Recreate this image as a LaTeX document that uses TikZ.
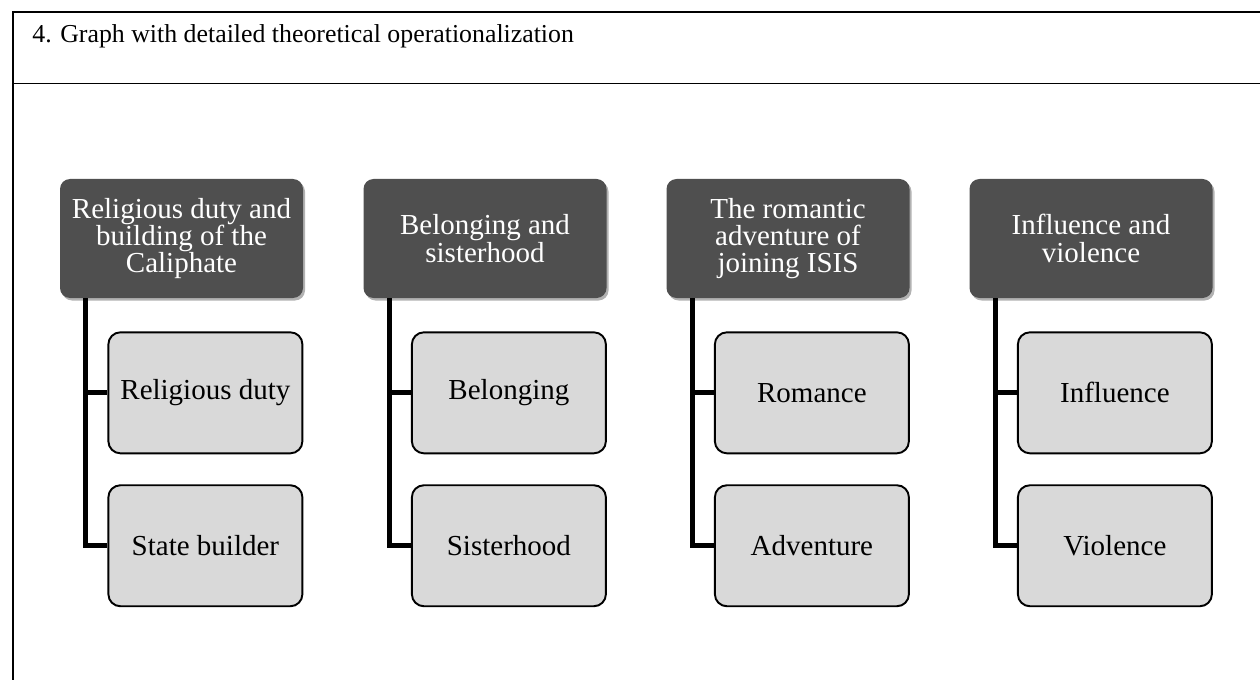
\documentclass[tikz,border=0pt]{standalone}
\usepackage{fontspec}
\setmainfont{Liberation Serif}
\usetikzlibrary{positioning}
\usetikzlibrary{shadows}

\definecolor{themegray}{HTML}{4F4F4F}
\definecolor{itemgray}{HTML}{D9D9D9}

\tikzset{
  theme/.style={rounded corners=0.2cm, fill=themegray, text=white,
    minimum width=4.86cm, minimum height=2.38cm, align=center, inner sep=2pt,
    font=\fontsize{16.5}{15.5}\selectfont,
    drop shadow={shadow xshift=0.04cm, shadow yshift=-0.05cm, opacity=0.3, fill=black}},
  item/.style={rounded corners=0.24cm, draw=black, line width=1.1pt, fill=itemgray,
    minimum width=3.88cm, minimum height=2.42cm, align=center,
    font=\fontsize{16.5}{15.5}\selectfont},
  branch/.style={line width=2.8pt}
}

\begin{document}
\begin{tikzpicture}
                \useasboundingbox (0, 0) rectangle (25.2, -13.6);
                % table frame
                \draw[line width=0.9pt] (25.2, -0.24) -- (0.26, -0.24) -- (0.26, -13.6);
                \draw[line width=0.9pt] (0.26, -1.67) -- (25.2, -1.67);
                \node[anchor=base west, inner sep=0pt, font=\fontsize{14.7}{16}\selectfont] (title) at (0.64, -0.86) {4. Graph with detailed theoretical operationalization};
                % top row
                \node[theme] (p1) at (3.63, -4.77) {Religious duty and\\building of the\\Caliphate};
                \node[theme] (p2) at (9.70, -4.77) {Belonging and\\sisterhood};
                \node[theme] (p3) at (15.76, -4.77) {The romantic\\adventure of\\joining ISIS};
                \node[theme] (p4) at (21.82, -4.77) {Influence and\\violence};
                % sub items
                \node[item, below=0.66cm of p1.south east, anchor=north east] (c1a) {Religious duty};
                \node[item, below=0.6cm of c1a] (c1b) {State builder};
                \node[item, below=0.66cm of p2.south east, anchor=north east] (c2a) {Belonging};
                \node[item, below=0.6cm of c2a] (c2b) {Sisterhood};
                \node[item, below=0.66cm of p3.south east, anchor=north east] (c3a) {Romance};
                \node[item, below=0.6cm of c3a] (c3b) {Adventure};
                \node[item, below=0.66cm of p4.south east, anchor=north east] (c4a) {Influence};
                \node[item, below=0.6cm of c4a] (c4b) {Violence};
                % connectors
                \draw[branch] (p1.south west) ++(0.52, 0) |- (c1a.west);
                \draw[branch] (p1.south west) ++(0.52, 0) |- (c1b.west);
                \draw[branch] (p2.south west) ++(0.52, 0) |- (c2a.west);
                \draw[branch] (p2.south west) ++(0.52, 0) |- (c2b.west);
                \draw[branch] (p3.south west) ++(0.52, 0) |- (c3a.west);
                \draw[branch] (p3.south west) ++(0.52, 0) |- (c3b.west);
                \draw[branch] (p4.south west) ++(0.52, 0) |- (c4a.west);
                \draw[branch] (p4.south west) ++(0.52, 0) |- (c4b.west);
            \end{tikzpicture}
\end{document}
